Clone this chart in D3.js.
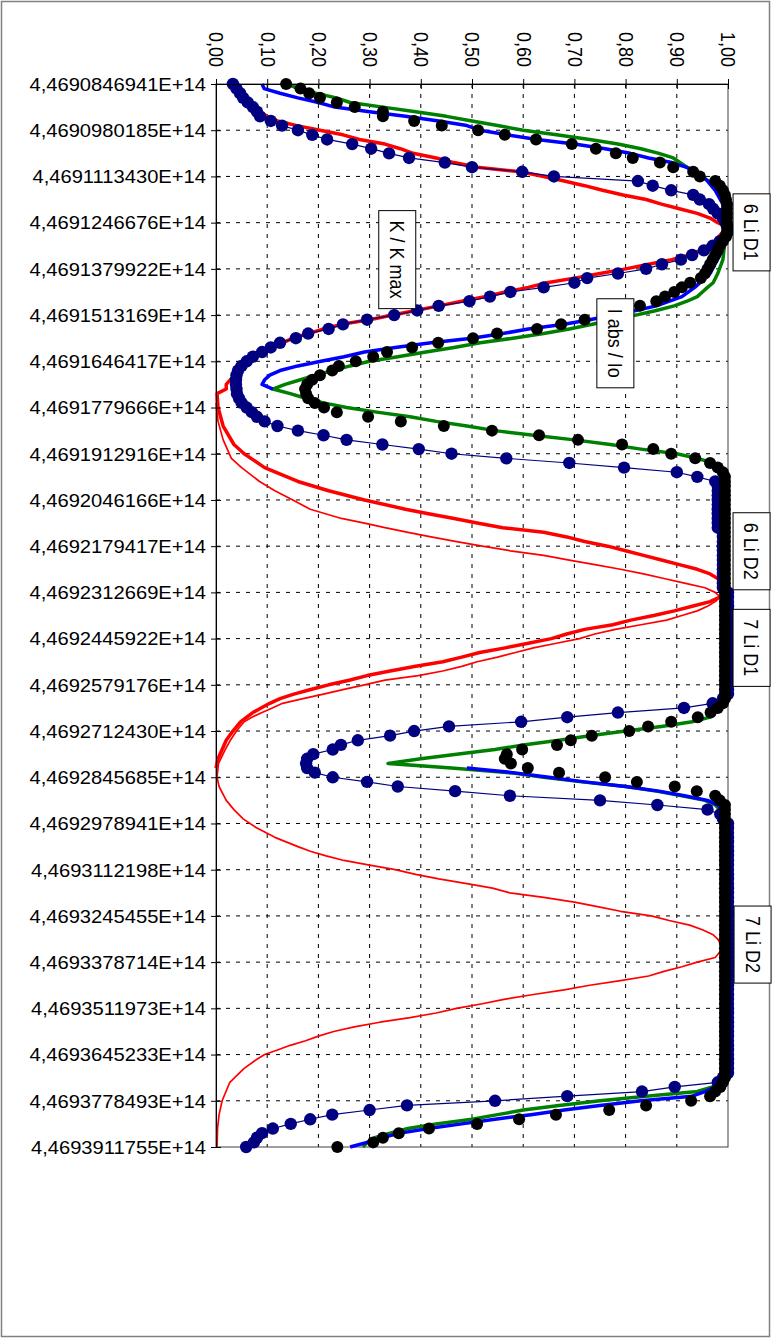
<!DOCTYPE html>
<html lang="de">
<head>
<meta charset="UTF-8">
<title>Li D1 / D2</title>
<script src="https://cdnjs.cloudflare.com/ajax/libs/d3/7.8.5/d3.min.js"></script>
<style>
  body { margin: 0; background: #fff; }
  svg { display: block; font-family: 'Liberation Sans', Arial, sans-serif; }
</style>
</head>
<body>
<div id="wrapper"></div>
<script>
// category axis: one label every 10 categories (231 categories, index 0..230)
const catLabels = [
  '4,4690846941E+14', '4,4690980185E+14', '4,4691113430E+14', '4,4691246676E+14',
  '4,4691379922E+14', '4,4691513169E+14', '4,4691646417E+14', '4,4691779666E+14',
  '4,4691912916E+14', '4,4692046166E+14', '4,4692179417E+14', '4,4692312669E+14',
  '4,4692445922E+14', '4,4692579176E+14', '4,4692712430E+14', '4,4692845685E+14',
  '4,4692978941E+14', '4,4693112198E+14', '4,4693245455E+14', '4,4693378714E+14',
  '4,4693511973E+14', '4,4693645233E+14', '4,4693778493E+14', '4,4693911755E+14'
]
const valueTicks = [0, 0.1, 0.2, 0.3, 0.4, 0.5, 0.6, 0.7, 0.8, 0.9, 1.0]

// K / K max, measured (navy dots), one value per category
const kMeasured = [
  .033,.040,.047,.053,.062,.072,.080,.086,.107,.129,
  .160,.188,.217,.266,.303,.338,.377,.447,.500,.598,
  .660,.824,.853,.889,.932,.945,.963,.971,.980,.990,
  .995,1.00,1.00,.995,.984,.970,.953,.930,.908,.871,
  .840,.785,.725,.700,.640,.575,.535,.495,.435,.393,
  .348,.295,.248,.220,.180,.156,.125,.107,.090,.072,
  .060,.050,.043,.040,.039,.039,.040,.041,.045,.050,
  .060,.070,.080,.095,.120,.160,.210,.255,.325,.396,
  .460,.567,.690,.797,.900,.940,.975,.980,.980,.980,
  .980,.980,.980,.980,.980,.980,.980,.990,.990,.990,
  .990,.990,.990,.990,.990,.990,.990,.990,.990,.990,
  1.00,1.00,1.00,1.00,1.00,1.00,1.00,1.00,1.00,1.00,
  1.00,1.00,1.00,1.00,1.00,1.00,1.00,1.00,1.00,1.00,
  1.00,1.00,1.00,.990,.970,.914,.785,.686,.596,.455,
  .387,.340,.277,.244,.228,.190,.178,.176,.178,.193,
  .228,.295,.355,.467,.574,.750,.862,.960,.985,.990,
  1.00,1.00,1.00,1.00,1.00,1.00,1.00,1.00,1.00,1.00,
  1.00,1.00,1.00,1.00,1.00,1.00,1.00,1.00,1.00,1.00,
  1.00,1.00,1.00,1.00,1.00,1.00,1.00,1.00,1.00,1.00,
  1.00,1.00,1.00,1.00,1.00,1.00,1.00,1.00,1.00,1.00,
  1.00,1.00,1.00,1.00,1.00,1.00,1.00,1.00,1.00,1.00,
  1.00,1.00,1.00,1.00,1.00,.990,.980,.896,.832,.686,
  .545,.373,.300,.227,.184,.146,.111,.090,.080,.074,
  .059
]

// I abs / Io, measured (black dots), one value per category
const iabsMeasured = [
  .137,.165,.182,.203,.236,.271,.326,.326,.387,.441,
  .512,.564,.625,.695,.742,.781,.814,.867,.893,.932,
  .945,.975,.984,.990,.994,.996,.998,.998,.998,.998,
  .998,.998,.998,.996,.990,.984,.980,.975,.970,.965,
  .960,.955,.947,.926,.910,.895,.877,.860,.828,.800,
  .760,.720,.674,.627,.549,.502,.434,.383,.334,.307,
  .273,.240,.227,.203,.188,.178,.174,.176,.180,.193,
  .211,.236,.297,.361,.445,.539,.631,.707,.793,.854,
  .889,.936,.965,.980,.990,.994,.994,.994,.994,.994,
  .994,.994,.994,.994,.994,.994,.994,.994,.994,.994,
  .994,.994,.994,.994,.994,.994,.994,.994,.994,.994,
  .994,.994,.994,.994,.994,.994,.994,.994,.994,.994,
  .994,.994,.994,.994,.994,.994,.994,.994,.994,.994,
  .994,.994,.994,.994,.990,.980,.966,.941,.889,.844,
  .807,.734,.693,.666,.598,.568,.564,.576,.609,.670,
  .760,.822,.896,.939,.975,.984,.994,.994,.994,.994,
  .994,.994,.994,.994,.994,.994,.994,.994,.994,.994,
  .994,.994,.994,.994,.994,.994,.994,.994,.994,.994,
  .994,.994,.994,.994,.994,.994,.994,.994,.994,.994,
  .994,.994,.994,.994,.994,.994,.994,.994,.994,.994,
  .994,.994,.994,.994,.994,.994,.994,.994,.994,.994,
  .994,.994,.994,.994,.994,.994,.990,.985,.975,.965,
  .928,.840,.768,.664,.592,.510,.416,.357,.326,.307,
  .237
]

// I abs / Io, model curves: [category index, value]; null = no data
const iabsBlue = [
  [0,.090],[1,.094],[2,.125],[3,.160],[4,.200],[5,.232],[6,.300],[7,.370],[8,.435],[9,.490],
  [10,.516],[11,.568],[12,.627],[13,.700],[14,.760],[15,.809],[16,.845],[17,.890],[18,.918],[19,.940],
  [21,.960],[23,.975],[26,.990],[30,1.0],[33,.998],[37,.984],[41,.965],[44,.935],[46,.910],[48,.860],
  [49,.820],[50,.775],[51,.730],[52,.680],[53,.610],[54,.560],[55,.500],[56,.420],[57,.350],[58,.290],
  [59,.250],[60,.205],[61,.160],[62,.125],[63,.105],[64,.095],[65,.090],[66,.111],
  [100,null],
  [148,.490],[149,.580],[150,.650],[151,.720],[152,.800],[153,.865],[154,.915],[155,.960],[156,.980],
  [157,.990],[200,.992],[215,.990],[217,.975],[218,.955],[219,.930],[220,.830],[221,.750],[222,.680],
  [223,.615],[224,.545],[225,.480],[226,.415],[227,.360],[228,.323],[229,.295],[230,.262]
]
const iabsGreen = [
  [0,.137],[1,.162],[2,.195],[3,.235],[4,.262],[5,.326],[6,.390],[7,.450],[8,.500],[9,.550],
  [10,.600],[11,.665],[12,.730],[13,.785],[14,.830],[15,.865],[16,.893],[18,.920],[19,.937],[21,.962],
  [22,.975],[25,.990],[30,.998],[38,.990],[41,.980],[43,.971],[44,.960],[45,.950],[46,.940],[47,.920],
  [48,.895],[49,.860],[50,.820],[51,.775],[52,.735],[53,.690],[54,.640],[55,.580],[56,.516],[57,.465],
  [58,.410],[59,.355],[60,.300],[61,.262],[62,.228],[63,.195],[64,.165],[65,.135],[66,.111],[67,.145],
  [68,.175],[69,.210],[70,.255],[71,.314],[72,.379],[73,.430],[74,.490],[75,.545],[76,.620],[77,.700],
  [78,.770],[79,.830],[80,.900],[81,.940],[82,.971],[83,.980],[85,.990],[133,.990],[134,.990],[135,.984],
  [137,.965],[138,.930],[139,.870],[140,.800],[141,.730],[142,.670],[143,.600],[144,.545],[145,.470],[146,.400],
  [147,.336],[148,.460],[149,.574],[150,.640],[151,.715],[152,.800],[153,.860],[154,.910],[155,.955],[156,.975],
  [157,.984],[159,.990],[215,.990],[217,.970],[218,.940],[219,.840],[220,.750],[221,.670],[222,.600],[223,.550],
  [224,.500],[225,.430],[226,.375],[227,.340],[228,.310],[229,.295],[230,.287]
]

// K / K max, calculated: 6Li (thick red) and 7Li (thin red); zero stretches lie under the axis
const kCalc6Li = [
  [0,.033],[5,.070],[7,.100],[8,.120],[9,.158],[10,.203],[11,.248],[12,.280],[13,.330],[14,.360],
  [15,.385],[16,.430],[17,.465],[18,.510],[19,.595],[20,.640],[21,.680],[22,.720],[23,.755],[24,.795],
  [25,.840],[26,.870],[27,.905],[28,.940],[29,.965],[30,.980],[31,1.0],[32,.990],[34,.975],[36,.945],
  [37,.925],[38,.890],[39,.845],[40,.800],[41,.750],[42,.700],[43,.646],[44,.610],[45,.565],[46,.525],
  [47,.480],[48,.435],[49,.390],[50,.345],[51,.300],[52,.245],[53,.210],[54,.180],[55,.150],[56,.130],
  [57,.110],[58,.088],[59,.075],[60,.064],[61,.055],[62,.045],[63,.037],[64,.028],[65,.020],[66,.020],
  [67,.002],[70,.004],[74,.014],[78,.035],[80,.055],[83,.095],[86,.160],[88,.220],[90,.290],[92,.370],
  [93,.415],[94,.465],[95,.510],[96,.560],[97,.640],[98,.685],[99,.720],[100,.765],[101,.800],[102,.835],
  [103,.870],[104,.905],[105,.940],[106,.965],[107,.980],[110,1.0],[111,.984],[112,.965],[113,.930],[114,.895],
  [115,.855],[116,.810],[117,.775],[118,.720],[119,.685],[120,.655],[121,.610],[122,.565],[123,.515],[124,.480],
  [125,.443],[126,.390],[127,.340],[128,.295],[129,.260],[130,.220],[131,.185],[132,.152],[133,.125],[134,.105],
  [135,.088],[136,.072],[137,.060],[138,.048],[140,.033],[142,.020],[144,.012],[146,.004],[148,0]
]
const kCalc7Li = [
  [69,0],[70,.001],[73,.004],[77,.014],[81,.030],[83,.050],[86,.085],[88,.115],[90,.150],
  [92,.184],[94,.245],[95,.290],[96,.330],[97,.375],[98,.420],[99,.470],[100,.520],[101,.575],[102,.640],
  [103,.690],[104,.740],[105,.790],[106,.835],[107,.875],[108,.915],[109,.955],[110,.975],[111,.985],[112,.975],
  [113,.960],[114,.940],[115,.910],[116,.880],[117,.830],[118,.780],[119,.740],[120,.710],[121,.665],[122,.620],
  [123,.585],[124,.550],[125,.510],[126,.480],[127,.443],[128,.395],[129,.330],[130,.290],[131,.250],[132,.210],
  [133,.170],[134,.130],[135,.110],[136,.090],[137,.070],[138,.055],[140,.040],[142,.028],[144,.018],[147,.005],
  [150,.002],[152,.006],[155,.020],[157,.035],[159,.053],[161,.080],[163,.115],[165,.160],[166,.184],[167,.215],
  [168,.250],[169,.300],[170,.350],[171,.390],[172,.435],[173,.490],[174,.540],[175,.574],[176,.640],[177,.700],
  [178,.745],[179,.790],[180,.850],[181,.885],[182,.925],[183,.950],[184,.970],[185,.980],[187,.990],[189,.975],
  [190,.940],[191,.910],[192,.875],[193,.845],[194,.790],[195,.730],[196,.680],[197,.620],[198,.565],[199,.520],
  [200,.470],[201,.430],[202,.379],[203,.320],[204,.270],[205,.230],[206,.200],[207,.175],[208,.145],[209,.120],
  [210,.095],[211,.080],[213,.055],[216,.027],[220,.012],[223,.006],[226,.003],[230,.002]
]

// text boxes: [text, category index of centre, value of centre]
const notes = [
  ['K / K max', 38, .354],
  ['I abs / Io', 56.1, .780],
  ['6 Li D1', 32.1, 1.046],
  ['6 Li D2', 101.1, 1.046],
  ['7 Li D1', 122, 1.046],
  ['7 Li D2', 186.2, 1.048]
]

const width = 774
const height = 1338
const margin = { top: 84, left: 216, right: 46, bottom: 191 }
const boundedWidth = width - margin.left - margin.right
const boundedHeight = height - margin.top - margin.bottom
const stretch = 1.12   // glyphs in the picture are a bit wider than tall
const fontSize = 18

const svg = d3.select('#wrapper').append('svg')
  .attr('width', width)
  .attr('height', height)

svg.append('rect')
  .attr('x', 1.5).attr('y', 1.5)
  .attr('width', width - 6).attr('height', height - 3)
  .attr('fill', '#fff')
  .attr('stroke', '#808080')
  .attr('stroke-width', 1.5)

const bounds = svg.append('g')
  .attr('transform', `translate(${margin.left},${margin.top})`)

const xScale = d3.scaleLinear().domain([0, 1]).range([0, boundedWidth])
const yScale = d3.scaleLinear().domain([0, 230]).range([0, boundedHeight])
const catTicks = d3.range(0, 231, 10)

// gridlines
bounds.append('g')
  .selectAll('line')
  .data(valueTicks.slice(1, -1))
  .join('line')
    .attr('x1', d => xScale(d)).attr('x2', d => xScale(d))
    .attr('y1', 0).attr('y2', boundedHeight)
    .attr('stroke', '#000')
    .attr('stroke-dasharray', '4 6')
bounds.append('g')
  .selectAll('line')
  .data(catTicks.slice(1, -1))
  .join('line')
    .attr('x1', 0).attr('x2', boundedWidth)
    .attr('y1', d => yScale(d)).attr('y2', d => yScale(d))
    .attr('stroke', '#000')
    .attr('stroke-dasharray', '4 6')

bounds.append('rect')
  .attr('width', boundedWidth).attr('height', boundedHeight)
  .attr('fill', 'none')
  .attr('stroke', '#404040')

// series
const pairLine = d3.line()
  .defined(d => d[1] != null)
  .x(d => xScale(d[1]))
  .y(d => yScale(d[0]))

const drawLine = (data, color, w) => bounds.append('path')
  .datum(data)
  .attr('d', pairLine)
  .attr('fill', 'none')
  .attr('stroke', color)
  .attr('stroke-width', w)
  .attr('stroke-linejoin', 'round')

drawLine(kCalc7Li, '#ff0000', 1.7)
drawLine(kCalc6Li, '#ff0000', 3.5)
drawLine(iabsGreen, '#008000', 3.5)
drawLine(iabsBlue, '#0000ff', 3.5)

const kPairs = kMeasured.map((v, i) => [i, v])
drawLine(kPairs, '#000080', 1.2)
bounds.append('g')
  .selectAll('circle')
  .data(kPairs)
  .join('circle')
    .attr('cx', d => xScale(d[1]))
    .attr('cy', d => yScale(d[0]))
    .attr('r', 6.2)
    .attr('fill', '#000080')

bounds.append('g')
  .selectAll('circle')
  .data(iabsMeasured.map((v, i) => [i, v]))
  .join('circle')
    .attr('cx', d => xScale(d[1]))
    .attr('cy', d => yScale(d[0]))
    .attr('r', 6)
    .attr('fill', '#000')

// value axis (top), labels turned with the chart
const xAxis = bounds.append('g')
  .call(d3.axisTop(xScale).tickValues(valueTicks).tickSize(5).tickFormat(''))
xAxis.select('.domain').attr('stroke', '#000')
xAxis.selectAll('.tick line').attr('y1', 5).attr('y2', -5).attr('stroke', '#000')
xAxis.selectAll('.tick')
  .append('text')
    .attr('transform', `translate(0,-17) rotate(90) scale(1,${stretch})`)
    .attr('dy', '0.35em')
    .attr('text-anchor', 'end')
    .attr('fill', '#000')
    .style('font-size', fontSize + 'px')
    .text(d => d3.format('.2f')(d).replace('.', ','))

// category axis (left)
const yAxis = bounds.append('g')
  .call(d3.axisLeft(yScale).tickValues(catTicks).tickSize(5).tickFormat(''))
yAxis.select('.domain').attr('stroke', '#000')
yAxis.selectAll('.tick line').attr('x1', 5).attr('x2', -5).attr('stroke', '#000')
yAxis.selectAll('.tick')
  .append('text')
    .attr('transform', `translate(-10,0) scale(${stretch},1)`)
    .attr('dy', '0.35em')
    .attr('text-anchor', 'end')
    .attr('fill', '#000')
    .style('font-size', fontSize + 'px')
    .text(d => catLabels[d / 10])

// text boxes
notes.forEach(([label, cat, value]) => {
  const cx = xScale(value)
  const cy = yScale(cat)
  const g = bounds.append('g')
  const rect = g.append('rect')
  const text = g.append('text')
    .attr('transform', `translate(${cx},${cy}) rotate(90) scale(1,${stretch})`)
    .attr('dy', '0.35em')
    .attr('text-anchor', 'middle')
    .style('font-size', fontSize + 'px')
    .text(label)
  const len = text.node().getComputedTextLength() + 20
  rect.attr('x', cx - 18.5).attr('y', cy - len / 2)
    .attr('width', 37).attr('height', len)
    .attr('fill', '#fff')
    .attr('stroke', '#000')
})
</script>
</body>
</html>
